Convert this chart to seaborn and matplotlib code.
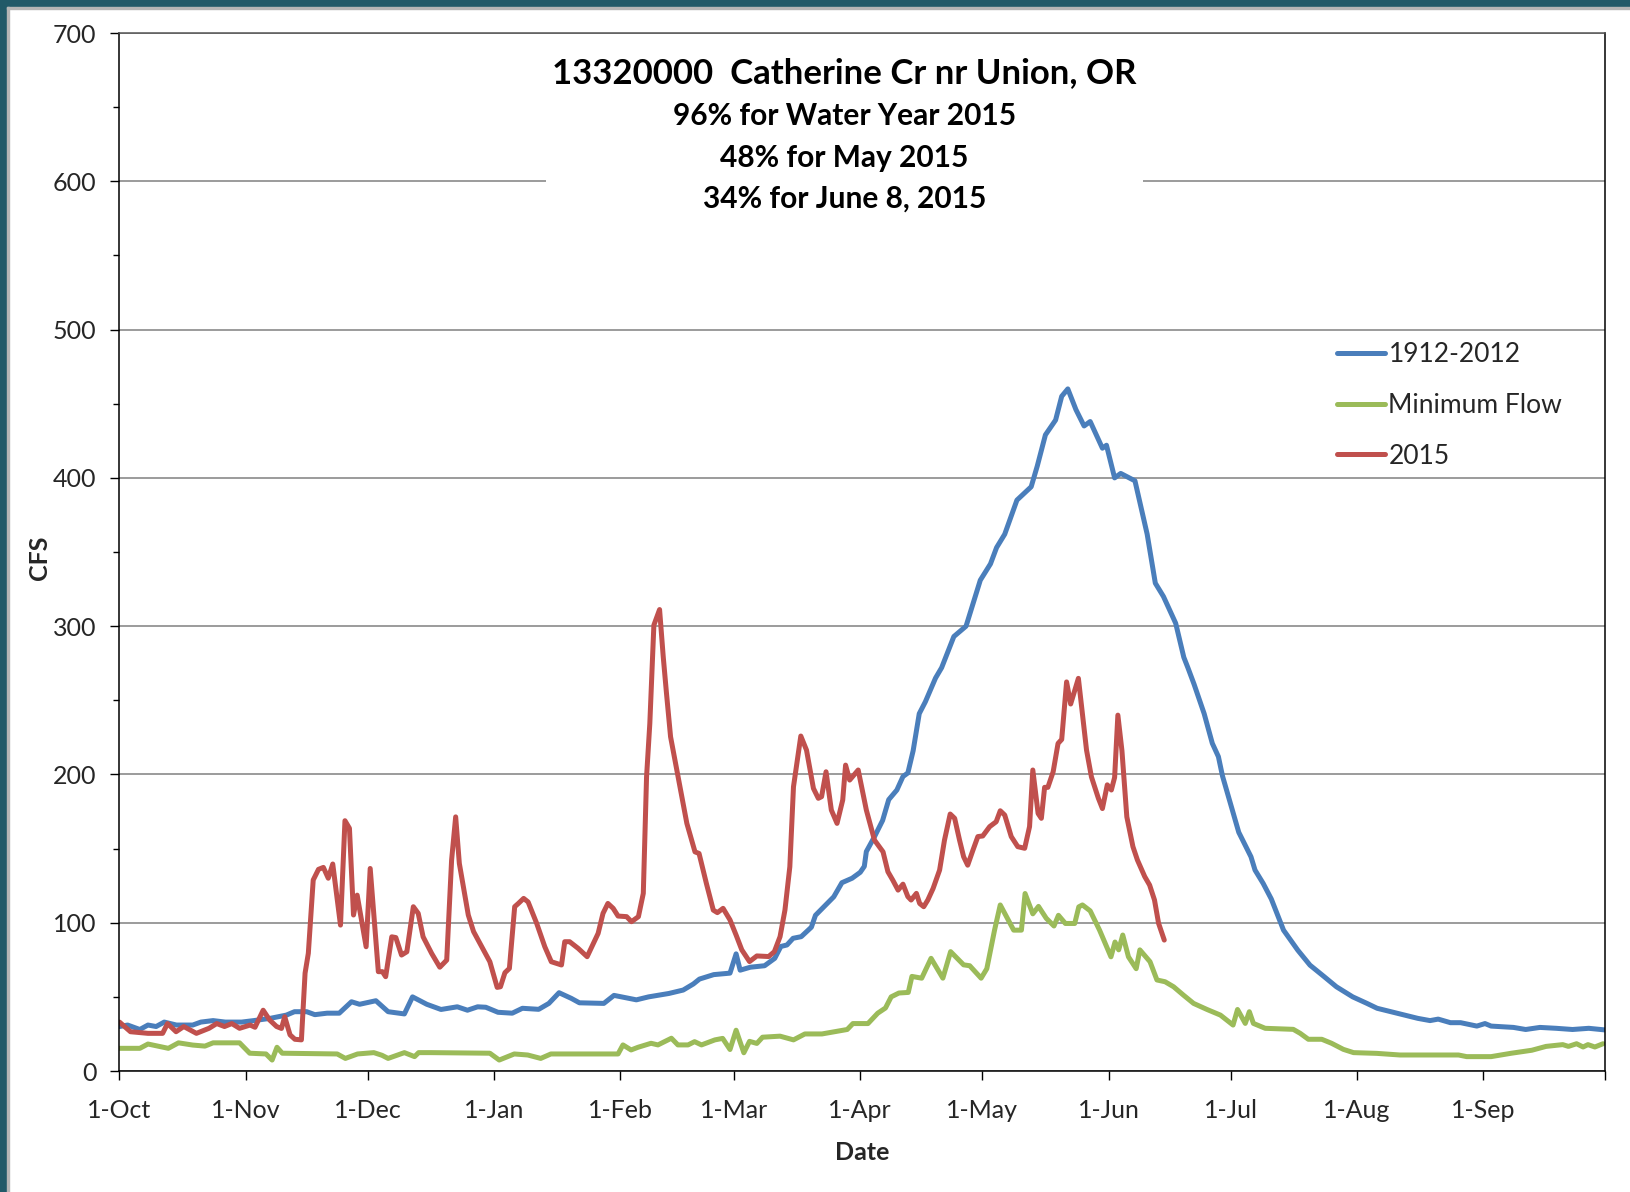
import pandas as pd
import numpy as np
import matplotlib
matplotlib.use("Agg")
import matplotlib.pyplot as plt
from matplotlib.patches import Rectangle
import seaborn as sns

# valores (dia del año hidrologico desde 1-Oct-2014, cfs)
hist_days = [0, 2, 5, 7, 9, 11, 14, 18, 20, 23, 26, 30, 33, 37, 41, 43, 46, 48, 51, 54, 57, 59, 63, 66,
             70, 72, 75.5, 79, 83, 85.5, 88, 90, 93, 96.5, 99, 103, 105.5, 108, 111, 113, 119, 121.5, 127,
             130, 135, 138.5, 141, 142.5, 146, 150, 151.5, 152.5, 155, 158.5, 161, 162.5, 164, 165.5,
             167.5, 170, 171, 173.5, 175.5, 177.5, 180, 182, 183, 183.5, 185.5, 187.5, 189, 191, 192.5,
             193.7, 195, 196.5, 198, 200.5, 202, 203, 205, 208, 211.5, 214, 215.5, 217.5, 220.5, 224,
             225.5, 227.5, 230, 231.5, 233, 235, 237, 238.5, 241.5, 242.5, 244.5, 246, 249.5, 252.5,
             254.5, 256.5, 259.5, 261.5, 262.5, 264, 266.5, 268.5, 270, 271, 273, 275, 278, 279, 281,
             283, 285, 286, 289.5, 292.5, 296, 299, 303, 306.5, 309, 314, 319, 322, 324, 327, 329.5,
             333.5, 335.5, 337, 342.5, 345.5, 349, 353, 357, 361, 365]
hist_cfs = [30, 31, 28, 31, 30, 33, 31, 31, 33, 34, 33, 33, 34, 35.5, 37.7, 40, 40, 38, 39, 39, 46.7, 45,
            47.4, 40, 38.5, 50, 45, 41.5, 43.3, 41, 43.3, 43, 39.6, 39, 42.3, 41.6, 45.6, 52.8, 49, 46,
            45.6, 51, 48, 50, 52.3, 54.6, 58.7, 62, 65, 66, 79, 68, 70, 71, 76, 84, 85, 89.5, 90.6, 97,
            105, 112, 117.5, 127, 130, 134, 138, 148, 158, 169, 183, 189.5, 198.6, 201, 216, 241, 249,
            265, 272, 279, 293, 300, 331, 342, 353, 362, 385, 394, 408, 429, 439, 455, 460, 446, 435,
            438, 420, 422, 400, 403, 398, 362, 329, 320, 302, 279, 272, 261, 241, 221, 212, 199, 180,
            161, 144.5, 135.5, 126.5, 116, 102, 95, 81.5, 71.4, 63.6, 56.8, 50, 45.6, 42.3, 38.9, 35.5,
            34, 35, 32.6, 32.6, 30.3, 32, 30.3, 29.4, 28, 29.4, 28.8, 28, 28.8, 27.7]

min_days = [0, 5, 7, 12, 14.5, 18, 21, 23, 29.5, 32, 36, 37.5, 38.7, 40, 53.5, 55.5, 58.5, 62.5, 64.5,
            66, 70, 72.5, 73.5, 76.5, 91, 93.3, 97, 100.3, 103.5, 106, 122.5, 123.7, 125.7, 127.4,
            130.6, 132.3, 135.6, 137.2, 139.7, 141.3, 143, 146.3, 148.2, 150, 151.5, 153.4, 154.8,
            156.6, 158, 162.3, 165.6, 168.4, 172.6, 176.4, 178.8, 180.2, 183.9, 186.3, 188.2, 189.6,
            191.5, 193.8, 194.7, 197.1, 199.4, 202.3, 204.2, 207.4, 208.9, 211.7, 213.1, 215, 216.4,
            219.7, 221.6, 222.5, 224.4, 225.8, 227.7, 229.6, 230.7, 232.4, 234.7, 235.7, 236.6, 238.5,
            240.8, 243.6, 244.6, 245.5, 246.5, 247.9, 249.8, 250.7, 253.2, 254.9, 256.9, 259, 261.4,
            263.9, 267.2, 270.5, 273.6, 274.7, 276.6, 277.6, 278.6, 281.5, 288.4, 290.1, 292.1, 295.4,
            297.8, 300.7, 303.2, 308.9, 314.6, 329, 331, 337, 342, 347, 350.5, 354.6, 356, 358, 359.6,
            360.8, 362.5, 364.5]
min_cfs = [15.3, 15.3, 18.2, 15.3, 19, 17.5, 16.8, 19, 19, 12, 11.5, 7.4, 16, 12, 11.5, 8.5, 11.5, 12.4,
           10.6, 8.5, 12.4, 9.7, 12.4, 12.4, 12, 7.4, 11.5, 10.8, 8.5, 11.5, 11.5, 17.6, 14.2, 16, 18.7,
           17.6, 22.1, 17.6, 17.6, 19.8, 17.6, 21, 22, 14.5, 27.5, 12.3, 20, 18.6, 22.8, 23.5, 21, 25, 25,
           26.8, 28, 32, 32, 39, 42.5, 50, 52.6, 53, 63.8, 62.6, 76, 62.6, 80.5, 71.6, 71, 62.6, 69, 95,
           112, 95, 95, 119.7, 106, 111, 103, 97.8, 105, 99.5, 99.5, 110.7, 112, 108, 95, 77, 87, 81.7,
           91.7, 77, 69, 81.7, 73.7, 61.4, 60.2, 56.8, 51.2, 45.6, 41.5, 37.7, 31, 41.5, 32.1, 40, 32.1,
           28.8, 28.1, 25.4, 21.4, 21.4, 18.7, 14.6, 12.4, 11.9, 10.8, 10.8, 9.7, 9.7, 12, 14, 16.6,
           17.8, 16.6, 18.4, 16.2, 17.8, 16.2, 18.4]

wy_days = [0, 2.7, 7, 10.6, 11.8, 13.9, 15.8, 18.9, 22, 23.9, 25.8, 27.6, 29.5, 32.1, 33.3, 35.3, 36.9,
           38.6, 39.8, 40.6, 41.9, 43.1, 44.7, 45.6, 46.4, 47.6, 48.9, 50.1, 51.3, 52.4, 54.3, 55.4,
           56.5, 57.5, 58.4, 60.6, 61.6, 63.6, 64.6, 65.4, 66.9, 67.9, 69.3, 70.6, 72.2, 73.4, 74.6,
           76.7, 78.7, 80.4, 81.6, 82.6, 83.5, 85.7, 87, 89, 91, 92.8, 93.6, 94.7, 95.8, 97.1, 98, 99.3,
           100.4, 102.5, 104.5, 106.1, 108.6, 109.4, 110.6, 112.7, 114.9, 117.6, 118.8, 120, 121.3,
           122.5, 124.6, 125.8, 127.5, 128.7, 129.5, 130.3, 131.3, 132.7, 133.6, 134.4, 135.4, 137.7,
           139.4, 141.4, 142.4, 144.2, 145.9, 146.9, 148.3, 150, 151.5, 152.9, 154.8, 156.6, 159.5,
           160.9, 162.3, 163.5, 164.7, 165.6, 167.4, 168.8, 170.5, 171.7, 172.5, 173.6, 174.9, 176.3,
           177.7, 178.4, 179.4, 181.5, 183.5, 185.5, 187.6, 188.8, 190, 191.3, 192.5, 193.7, 194.5,
           195.8, 196.6, 197.6, 198.6, 199.9, 201.5, 202.7, 204.1, 205.2, 206.4, 207.4, 208.4, 209.7,
           210.9, 212.1, 213.8, 215.4, 216.4, 217.5, 219.1, 220.7, 222.4, 223.6, 224.4, 225.7, 226.5,
           227.3, 228.1, 229.4, 230.6, 231.5, 232.7, 233.7, 235.6, 237.6, 238.8, 240.5, 241.5, 242.7,
           243.7, 244.5, 245.3, 246.3, 247.5, 249, 250.1, 251.9, 253.1, 254.3, 255.3, 256.7]
wy_cfs = [33, 26.5, 25.4, 25.4, 32, 26.5, 30, 25.4, 28.8, 32, 30, 32, 28.8, 31, 29.5, 41, 34.4, 30, 28.7,
          36.6, 24.4, 21.4, 21, 66, 79.4, 128.8, 136, 137.3, 130, 139.6, 98.4, 168.8, 163.7, 105.2,
          118.6, 83.8, 136.6, 67, 67, 63.6, 90.5, 90, 78.2, 80.4, 110.8, 106.3, 90.5, 79.3, 70, 74.8,
          142.2, 171.4, 140, 105.2, 94, 83.8, 73.7, 56.4, 56.8, 66.3, 69.2, 110.8, 113, 116.4, 114,
          99.6, 83.8, 73.7, 71.5, 87.2, 87.2, 82.7, 77.1, 92.8, 106.3, 113, 109.7, 104.5, 104.1, 100.7,
          104.1, 119.8, 198.4, 234.3, 300.7, 311.2, 279.3, 254.6, 225.4, 191.7, 167, 147.8, 146.7,
          126.5, 108.5, 106.8, 109.7, 101.9, 91.7, 81.7, 73.8, 77.6, 77.2, 80.5, 90.6, 108.5, 137.7,
          191.7, 225.9, 216.4, 190.6, 183.9, 185, 201.8, 176, 167, 182.8, 206.3, 196.2, 203, 176,
          155.7, 147.8, 134.4, 128.7, 122, 126, 117.6, 115.3, 119.8, 113, 110.8, 115.3, 123.1, 135.5,
          155.7, 173.3, 170.4, 155.7, 144.5, 138.8, 149, 158.1, 158.5, 164.8, 168.1, 175.5, 172.6,
          158.1, 151.3, 150.2, 164.8, 203, 173.7, 170.4, 191.3, 191.3, 201.8, 220.9, 223.6, 262.4,
          247.5, 264.8, 216.4, 198.4, 184, 177, 193, 189.5, 198, 240, 216, 171.4, 151.3, 142.3, 131.1,
          125.4, 115.3, 99.6, 88.3]

series_names = ["1912-2012", "Minimum Flow", "2015"]
series_colors = ["#4A7EBB", "#9BBB59", "#C0504D"]
month_labels = ["1-Oct", "1-Nov", "1-Dec", "1-Jan", "1-Feb", "1-Mar", "1-Apr", "1-May",
                "1-Jun", "1-Jul", "1-Aug", "1-Sep", ""]
title_lines = ["13320000  Catherine Cr nr Union, OR", "96% for Water Year 2015",
               "48% for May 2015", "34% for June 8, 2015"]

inicio = pd.Timestamp("2014-10-01")
partes = []
for nombre, dias, vals in zip(series_names, [hist_days, min_days, wy_days], [hist_cfs, min_cfs, wy_cfs]):
    partes.append(pd.DataFrame({"fecha": inicio + pd.to_timedelta(np.array(dias), unit="D"),
                                "cfs": vals, "serie": nombre}))
df = pd.concat(partes, ignore_index=True)

sns.set_theme(style="white")
plt.rcParams["font.family"] = ["Lato", "DejaVu Sans"]

fig = plt.figure(figsize=(16.3, 11.92), dpi=100)
ax = fig.add_axes([0.0733, 0.1015, 0.9114, 0.8708])

sns.lineplot(data=df, x="fecha", y="cfs", hue="serie", hue_order=series_names,
             palette=series_colors, estimator=None, sort=False, linewidth=3.6, ax=ax)

ax.set_xlim(inicio, pd.Timestamp("2015-10-01"))
ax.set_ylim(0, 700)
ax.set_axisbelow(True)
ax.yaxis.grid(True, color="#8a8a8a", linewidth=1.2)
ax.xaxis.grid(False)

tick_fechas = pd.date_range("2014-10-01", "2015-10-01", freq="MS")
ax.set_xticks(tick_fechas)
ax.set_xticklabels(month_labels, fontsize=18)
ax.set_yticks(range(0, 701, 100))
ax.set_yticks(range(50, 700, 100), minor=True)
ax.set_yticklabels([str(v) for v in range(0, 701, 100)], fontsize=18)
ax.tick_params(axis="both", which="major", direction="out", length=6.5, width=1, color="black",
               bottom=True, left=True)
ax.tick_params(axis="x", pad=14)
ax.tick_params(axis="y", pad=10)
ax.tick_params(axis="y", which="minor", direction="out", length=4, width=1, color="black", left=True)
for s in ax.spines.values():
    s.set_color("black")
    s.set_linewidth(1.1)
ax.spines["top"].set_color("#555555")

ax.set_xlabel("Date", fontsize=18, fontweight="bold")
ax.set_ylabel("CFS", fontsize=18, fontweight="bold")
ax.xaxis.set_label_coords(0.5, -0.067)
ax.yaxis.set_label_coords(-0.046, 0.494)

# caja blanca detras del titulo (tapa la linea de 600)
ax.add_patch(Rectangle((546 / 1630, 1 - 215 / 1192), (1143 - 546) / 1630, 170 / 1192,
                       transform=fig.transFigure, facecolor="white", edgecolor="none",
                       zorder=1, clip_on=False))
y_titulo = [73, 116, 158, 199]
for i, (txt, yy) in enumerate(zip(title_lines, y_titulo)):
    fig.text(0.518, 1 - yy / 1192, txt, ha="center", va="center",
             fontsize=25 if i == 0 else 21.5, fontweight="bold", color="black")

h, l = ax.get_legend_handles_labels()
ax.legend(h, l, loc="upper left", bbox_to_anchor=(1337 / 1630, 1 - 342 / 1192),
          bbox_transform=fig.transFigure, frameon=False, fontsize=19, handlelength=1.8,
          handletextpad=0.15, labelspacing=0.98, borderaxespad=0, borderpad=0)

# marco oscuro de la diapositiva
fig.patches.append(Rectangle((0, 0), 7 / 1630, 1, transform=fig.transFigure, color="#215968"))
fig.patches.append(Rectangle((0, 1 - 7 / 1192), 1, 7 / 1192, transform=fig.transFigure, color="#215968"))
fig.patches.append(Rectangle((7 / 1630, 0), 2 / 1630, 1 - 7 / 1192, transform=fig.transFigure, color="#b5b5b5"))
fig.patches.append(Rectangle((7 / 1630, 1 - 9 / 1192), 1, 2 / 1192, transform=fig.transFigure, color="#b5b5b5"))

fig.savefig("out.png", dpi=100)
